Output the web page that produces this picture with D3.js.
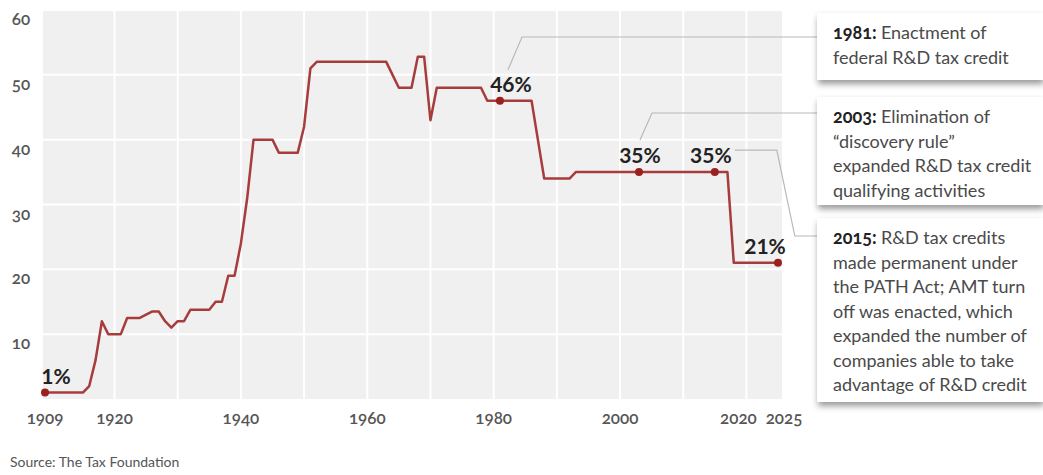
<!DOCTYPE html>
<html>
<head>
<meta charset="utf-8">
<script src="https://cdn.jsdelivr.net/npm/d3@7"></script>
<style>
  body { margin: 0; background: #fff; }
  svg { display: block; font-family: Lato, "Open Sans", sans-serif; }
  .tick-num { font-variant-numeric: oldstyle-nums; font-feature-settings: "onum"; }
</style>
</head>
<body>
<script>
// top corporate tax rate by year
const years = d3.range(1909, 2026);
const rates = [
  1, 1, 1, 1, 1, 1, 1,            // 1909-1915
  2, 6, 12, 10, 10, 10,           // 1916-1921
  12.5, 12.5, 12.5, 13, 13.5, 13.5, // 1922-1927
  12, 11, 12, 12,                 // 1928-1931
  13.75, 13.75, 13.75, 13.75,     // 1932-1935
  15, 15, 19, 19, 24, 31,         // 1936-1941
  40, 40, 40, 40, 38, 38, 38, 38, // 1942-1949
  42, 51,                         // 1950-1951
  52, 52, 52, 52, 52, 52, 52, 52, 52, 52, 52, 52, // 1952-1963
  50, 48, 48, 48, 52.8, 52.8, 43, // 1964-1970
  48, 48, 48, 48, 48, 48, 48, 48, // 1971-1978
  46, 46, 46, 46, 46, 46, 46, 46, // 1979-1986
  40, 34, 34, 34, 34, 34,         // 1987-1992
  35, 35, 35, 35, 35, 35, 35, 35, 35, 35, 35, 35, 35, // 1993-2005
  35, 35, 35, 35, 35, 35, 35, 35, 35, 35, 35, 35,     // 2006-2017
  21, 21, 21, 21, 21, 21, 21, 21  // 2018-2025
];

const xTicks = [1909, 1920, 1940, 1960, 1980, 2000, 2020, 2025];
const yTicks = [10, 20, 30, 40, 50, 60];
const xGrid = [1920, 1930, 1940, 1950, 1960, 1970, 1980, 1990, 2000, 2010, 2020];

const markYears = [1909, 1981, 2003, 2015, 2025];
const markLabels = ["1%", "46%", "35%", "35%", "21%"];

const noteHeads = ["1981:", "2003:", "2015:"];
const noteLines = [
  ["Enactment of", "federal R&D tax credit"],
  ["Elimination of", "\u201Cdiscovery rule\u201D", "expanded R&D tax credit", "qualifying activities"],
  ["R&D tax credits", "made permanent under", "the PATH Act; AMT turn", "off was enacted, which",
   "expanded the number of", "companies able to take", "advantage of R&D credit"]
];
const noteYears = [1981, 2003, 2015];

const source = "Source: The Tax Foundation";

const W = 1043, H = 475;
const svg = d3.select("body").append("svg").attr("width", W).attr("height", H);

const defs = svg.append("defs");
defs.append("filter").attr("id", "shadow")
  .attr("x", "-10%").attr("y", "-10%").attr("width", "130%").attr("height", "140%")
  .append("feDropShadow")
  .attr("dx", 1).attr("dy", 4).attr("stdDeviation", 3)
  .attr("flood-color", "#000").attr("flood-opacity", 0.4);

const x = d3.scaleLinear().domain([1909, 2025]).range([45, 778]);
const y = d3.scaleLinear().domain([0, 60]).range([399, 10]);

const data = years.map((yr, i) => ({ year: yr, rate: rates[i] }));
const rateOf = yr => rates[years.indexOf(yr)];

// plot background + grid
svg.append("rect")
  .attr("x", 43).attr("y", y(60) + 1)
  .attr("width", 782 - 43).attr("height", y(0) - y(60) - 1)
  .attr("fill", "#f0f0f0");

svg.append("g").selectAll("line").data(yTicks.filter(d => d < 60)).join("line")
  .attr("x1", 43).attr("x2", 782)
  .attr("y1", d => y(d)).attr("y2", d => y(d))
  .attr("stroke", "#fff").attr("stroke-width", 2);

svg.append("g").selectAll("line").data(xGrid).join("line")
  .attr("x1", d => x(d)).attr("x2", d => x(d))
  .attr("y1", y(60) + 1).attr("y2", y(0))
  .attr("stroke", "#fff").attr("stroke-width", 2);

// axes labels
svg.append("g").selectAll("text").data(yTicks).join("text")
  .attr("class", "tick-num")
  .attr("x", 21).attr("y", d => y(d) + 15)
  .attr("text-anchor", "middle")
  .attr("font-size", 17).attr("font-weight", 600).attr("fill", "#555")
  .text(d => d);

const xShift = { 2020: -8, 2025: 6 };
svg.append("g").selectAll("text").data(xTicks).join("text")
  .attr("class", "tick-num")
  .attr("x", d => x(d) + (xShift[d] || 0)).attr("y", 424)
  .attr("text-anchor", "middle")
  .attr("font-size", 17).attr("font-weight", 600).attr("fill", "#555")
  .text(d => d);

// the line
const line = d3.line().x(d => x(d.year)).y(d => y(d.rate));
svg.append("path").datum(data)
  .attr("d", line)
  .attr("fill", "none")
  .attr("stroke", "#a63c3c")
  .attr("stroke-width", 2.5)
  .attr("stroke-linejoin", "round");

// leader lines to note boxes
const boxX = 817, boxW = 226;
const boxTop = [13, 97, 218];
const boxH = [67, 108, 184];
const leaders = [
  d => [[x(d) + 8, y(rateOf(d)) - 31], [x(d) + 22, boxTop[0] + 24], [boxX, boxTop[0] + 24]],
  d => [[x(d) + 1, y(rateOf(d)) - 32], [x(d) + 13, boxTop[1] + 16], [boxX, boxTop[1] + 16]],
  d => [[x(d) + 20, y(rateOf(d)) - 22], [x(d) + 62, y(rateOf(d)) - 22],
        [x(d) + 80, boxTop[2] + 18], [boxX, boxTop[2] + 18]]
];
svg.append("g").selectAll("path").data(noteYears).join("path")
  .attr("d", (d, i) => d3.line()(leaders[i](d)))
  .attr("fill", "none").attr("stroke", "#b8b8b8").attr("stroke-width", 1.2);

// marked points
svg.append("g").selectAll("circle").data(markYears).join("circle")
  .attr("cx", d => x(d)).attr("cy", d => y(rateOf(d)))
  .attr("r", 4).attr("fill", "#9b2020");

const labelShift = [11, 11, 1, -4, -13];
svg.append("g").selectAll("text").data(markYears).join("text")
  .attr("x", (d, i) => x(d) + labelShift[i])
  .attr("y", d => y(rateOf(d)) - 9)
  .attr("text-anchor", "middle")
  .attr("font-size", 21).attr("font-weight", 700).attr("fill", "#222")
  .text((d, i) => markLabels[i]);

// note boxes
const notes = svg.append("g").selectAll("g").data(noteHeads).join("g");
notes.append("rect")
  .attr("x", boxX).attr("y", (d, i) => boxTop[i])
  .attr("width", boxW).attr("height", (d, i) => boxH[i])
  .attr("fill", "#fff").attr("filter", "url(#shadow)");

notes.each(function (head, i) {
  const t = d3.select(this).append("text")
    .attr("font-size", 18).attr("fill", "#4a4a4a");
  noteLines[i].forEach((ln, j) => {
    const tl = t.append("tspan")
      .attr("x", 833).attr("y", boxTop[i] + 26 + j * 24.5);
    if (j === 0) {
      tl.append("tspan").attr("class", "tick-num")
        .attr("font-weight", 700).attr("fill", "#222").text(head + " ");
      tl.append("tspan").text(ln);
    } else {
      tl.text(ln);
    }
  });
});

svg.append("text")
  .attr("x", 10).attr("y", 467)
  .attr("font-size", 14).attr("fill", "#555")
  .text(source);
</script>
</body>
</html>
